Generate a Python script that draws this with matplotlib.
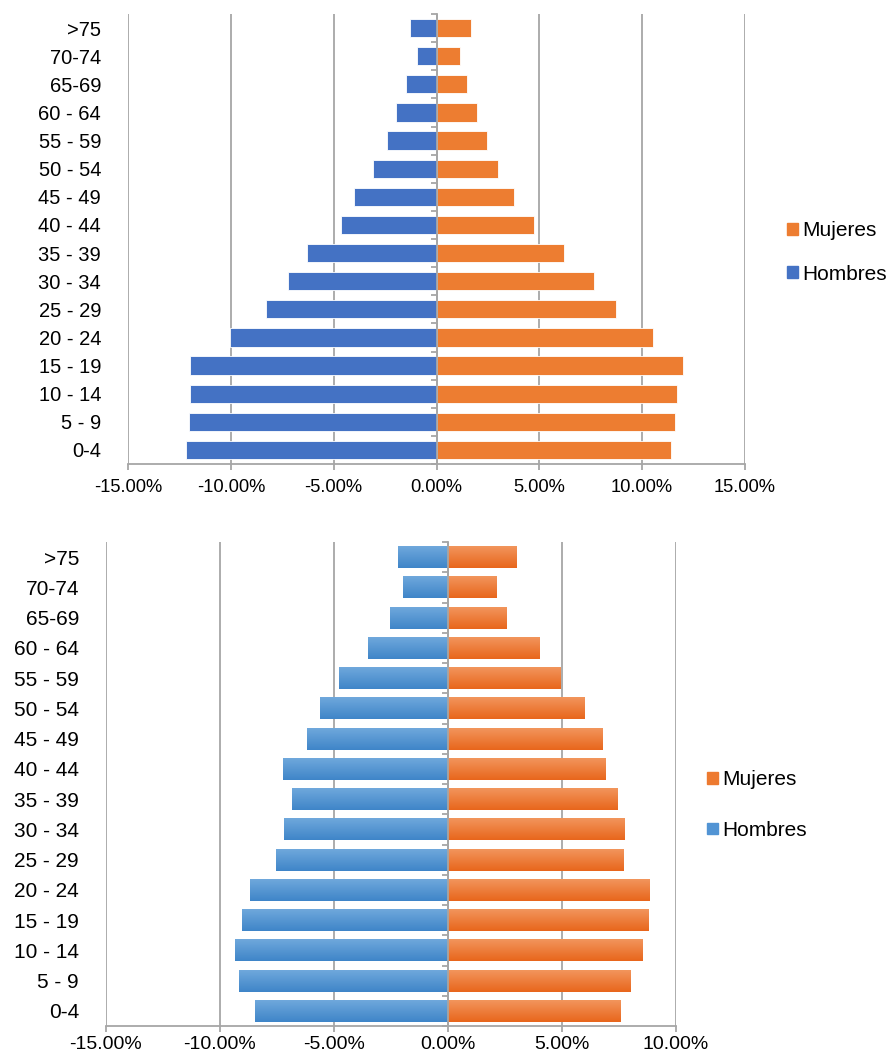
import matplotlib
matplotlib.use("Agg")
from matplotlib import pyplot as plt
from matplotlib.patches import Patch
from matplotlib.ticker import FuncFormatter, FixedLocator
import numpy as np

plt.rcParams['font.family'] = ['Liberation Sans', 'DejaVu Sans']

grupos = ['0-4', '5 - 9', '10 - 14', '15 - 19', '20 - 24', '25 - 29', '30 - 34',
          '35 - 39', '40 - 44', '45 - 49', '50 - 54', '55 - 59', '60 - 64',
          '65-69', '70-74', '>75']

# piramide 1 (porcentajes, hombres negativos)
hombres_1 = [-12.16, -12.03, -12.00, -11.98, -10.05, -8.30, -7.24, -6.28,
             -4.63, -4.01, -3.07, -2.42, -1.98, -1.46, -0.94, -1.30]
mujeres_1 = [11.41, 11.58, 11.68, 11.97, 10.51, 8.73, 7.68, 6.22,
             4.76, 3.78, 3.00, 2.45, 1.98, 1.48, 1.14, 1.70]

# piramide 2
hombres_2 = [-8.45, -9.15, -9.33, -9.02, -8.67, -7.53, -7.18, -6.83,
             -7.22, -6.17, -5.60, -4.77, -3.50, -2.53, -1.96, -2.18]
mujeres_2 = [7.56, 7.99, 8.52, 8.79, 8.83, 7.69, 7.73, 7.43,
             6.90, 6.77, 5.98, 4.93, 4.00, 2.56, 2.12, 3.00]

gris = '#a6a6a6'
pct = FuncFormatter(lambda v, p: '%.2f%%' % v)


def ejes(ax, xmin, xmax, fs_y, fs_x, pad_y, pad_x):
    y = np.arange(len(grupos))
    ax.set_xlim(xmin, xmax)
    ax.set_ylim(-0.5, len(grupos) - 0.5)
    ax.set_xticks(np.arange(xmin, xmax + 0.1, 5))
    ax.xaxis.set_major_formatter(pct)
    ax.grid(axis='x', color=gris, linewidth=1.3)
    ax.set_axisbelow(True)
    ax.set_yticks(y)
    ax.set_yticklabels(grupos)
    ax.yaxis.set_minor_locator(FixedLocator(np.arange(-0.5, len(grupos), 1)))
    ax.yaxis.set_ticks_position('both')
    ax.tick_params(axis='y', which='major', left=False, right=False, length=0,
                   pad=pad_y, labelsize=fs_y, labelleft=True, labelright=False)
    ax.tick_params(axis='y', which='minor', left=False, right=True,
                   direction='in', length=4.5, color=gris, width=1.3)
    ax.tick_params(axis='x', length=4, color=gris, width=1.3, labelsize=fs_x,
                   pad=pad_x)
    for s in ['top', 'left']:
        ax.spines[s].set_visible(False)
    ax.spines['right'].set_position(('data', 0))
    ax.spines['right'].set_color(gris)
    ax.spines['right'].set_linewidth(1.3)
    ax.spines['bottom'].set_color(gris)
    ax.spines['bottom'].set_linewidth(1.3)


def degradado(ax, barras, c_arriba, c_abajo):
    c1 = np.array(matplotlib.colors.to_rgb(c_abajo))
    c2 = np.array(matplotlib.colors.to_rgb(c_arriba))
    t = np.linspace(0, 1, 64).reshape(-1, 1, 1)
    img = c1 + (c2 - c1) * t
    for b in barras:
        x0, y0 = b.get_x(), b.get_y()
        x1, y1 = x0 + b.get_width(), y0 + b.get_height()
        im = ax.imshow(img, extent=[min(x0, x1), max(x0, x1), y0, y1],
                       origin='lower', aspect='auto', interpolation='bilinear',
                       zorder=b.get_zorder() + 0.1)
        im.set_clip_path(b)


def leyenda(fig, c_muj, c_hom, x, y, spacing):
    fig.legend(handles=[Patch(color=c_muj, label='Mujeres'),
                        Patch(color=c_hom, label='Hombres')],
               loc='upper left', bbox_to_anchor=(x / 891, 1 - y / 1057),
               frameon=False, fontsize=15, handlelength=0.5, handleheight=0.5,
               handletextpad=0.2, labelspacing=spacing, borderpad=0,
               borderaxespad=0)


fig = plt.figure(figsize=(8.91, 10.57), dpi=100)
y = np.arange(len(grupos))

# --- piramide superior ---
ax1 = fig.add_axes([128 / 891, 1 - 464 / 1057, 617 / 891, 450 / 1057])
ax1.barh(y, hombres_1, height=0.65, color='#4472C4', edgecolor='white', linewidth=0.6)
ax1.barh(y, mujeres_1, height=0.65, color='#ED7D31', edgecolor='white', linewidth=0.6)
ejes(ax1, -15, 15, 14.5, 13.2, 19.4, 7)
leyenda(fig, '#ED7D31', '#4472C4', 787.3, 221, 1.19)

# --- piramide inferior ---
ax2 = fig.add_axes([105.7 / 891, 1 - 1026 / 1057, 570.3 / 891, 484 / 1057])
bh = ax2.barh(y, hombres_2, height=0.72, color='#5294d4', linewidth=0)
bm = ax2.barh(y, mujeres_2, height=0.72, color='#ed7a30', linewidth=0)
degradado(ax2, bh, '#6FA8DC', '#3F85C8')
degradado(ax2, bm, '#F2955C', '#E8661C')
ejes(ax2, -15, 10, 15, 14, 19.2, 3.5)
leyenda(fig, '#ed7a30', '#5294d4', 707.3, 770, 1.53)

fig.savefig('out.png', dpi=100)
